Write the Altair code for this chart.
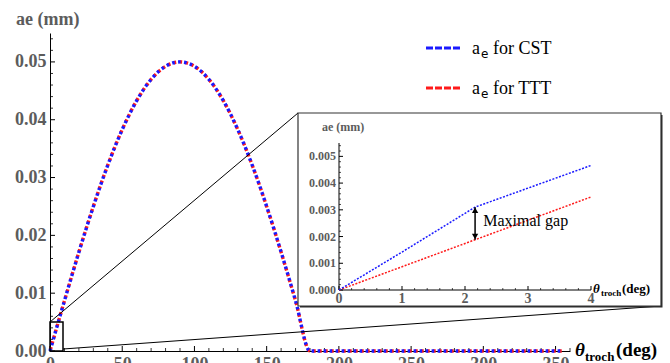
import altair as alt
import pandas as pd

# ---------------- data ----------------
theta_main = [0, 10, 20, 30, 40, 50, 60, 70, 80, 90, 100, 110, 120, 130, 140, 150, 160, 170, 180, 355]
ae_cst_main = [0, 0.00868, 0.01710, 0.02500, 0.03214, 0.03830, 0.04330, 0.04698, 0.04924, 0.05,
               0.04924, 0.04698, 0.04330, 0.03830, 0.03214, 0.02500, 0.01710, 0.00868, 0, 0]
ae_ttt_main = [0, 0.00868, 0.01710, 0.02500, 0.03214, 0.03830, 0.04330, 0.04698, 0.04924, 0.05,
               0.04924, 0.04698, 0.04330, 0.03830, 0.03214, 0.02500, 0.01710, 0.00868, 0, 0]

x_ticks_main = [0, 50, 100, 150, 200, 250, 300, 350]
x_minor_main = [v for v in range(0, 361, 10) if v % 50 != 0]
y_ticks_main = [0, 0.01, 0.02, 0.03, 0.04, 0.05]
y_minor_main = [round(0.002 * i, 3) for i in range(0, 28) if i % 5 != 0]

zoom_box_x = [0, 9]
zoom_box_y = [0, 0.005]

theta_cst_in = [0, 1, 2.16, 4]
ae_cst_in = [0, 0.00142, 0.0031, 0.00466]
theta_ttt_in = [0, 2.16, 4]
ae_ttt_in = [0, 0.00188, 0.00348]

gap_x = 2.16
gap_top = 0.0031
gap_bottom = 0.00188

x_ticks_in = [0, 1, 2, 3, 4]
x_labels_in = ["0", "1", "2", "3", "4"]
x_minor_in = [round(0.2 * i, 1) for i in range(0, 21) if i % 5 != 0]
y_ticks_in = [0, 0.001, 0.002, 0.003, 0.004, 0.005]
y_labels_in = ["0.000", "0.001", "0.002", "0.003", "0.004", "0.005"]
y_minor_in = [round(0.0002 * i, 4) for i in range(0, 28) if i % 5 != 0]

legend_labels = ["for CST", "for TTT"]

# ---------------- style ----------------
SERIF = "Liberation Serif, Times New Roman, serif"
GRAY = "#5c5c5c"
BLUE = "#1a1aff"
RED = "#ff1a1a"
W, H = 520, 318

xs_main = alt.Scale(domain=[0, 360], nice=False, zero=False)
ys_main = alt.Scale(domain=[0, 0.055], nice=False, zero=False)

axis_x_main = alt.Axis(values=x_ticks_main, format="d", ticks=False, tickSize=0, grid=False,
                       domainColor="black", domainWidth=1, labelFont=SERIF, labelFontWeight="bold",
                       labelFontSize=18, labelColor=GRAY, labelPadding=4, title=None,
                       labelFlush=False, labelOverlap=False, orient="bottom")
axis_y_main = alt.Axis(values=y_ticks_main, format=".2f", ticks=False, tickSize=0, grid=False,
                       domainColor="black", domainWidth=1, labelFont=SERIF, labelFontWeight="bold",
                       labelFontSize=18, labelColor=GRAY, labelPadding=4, title=None,
                       labelFlush=False, labelOverlap=False, orient="left")

# inset scale ranges (pixels inside the plot area)
IX0, IX1 = 289, 541
IY0, IY1 = 257, 110
xs_in = alt.Scale(domain=[0, 4], range=[IX0, IX1], nice=False, zero=False)
ys_in = alt.Scale(domain=[0, 0.0055], range=[IY0, IY1], nice=False, zero=False)

one = pd.DataFrame({"a": [0]})

# ---------------- main group ----------------
df_main = pd.DataFrame({"theta": theta_main, "cst": ae_cst_main, "ttt": ae_ttt_main})

red_main = alt.Chart(df_main).mark_line(color=RED, strokeWidth=3.4, strokeDash=[2.6, 3.4],
                                        strokeDashOffset=4.5, interpolate="monotone").encode(
    x=alt.X("theta:Q", scale=xs_main, axis=axis_x_main),
    y=alt.Y("ttt:Q", scale=ys_main, axis=axis_y_main))
blue_main = alt.Chart(df_main).mark_line(color=BLUE, strokeWidth=3.4, strokeDash=[2.6, 3.4],
                                         interpolate="monotone").encode(
    x=alt.X("theta:Q", scale=xs_main, axis=axis_x_main),
    y=alt.Y("cst:Q", scale=ys_main, axis=axis_y_main))

ymaj = alt.Chart(pd.DataFrame({"v": y_ticks_main})).mark_rule(color="black", strokeWidth=1).encode(
    y=alt.Y("v:Q", scale=ys_main, axis=axis_y_main), x=alt.value(0), x2=alt.value(5))
ymin = alt.Chart(pd.DataFrame({"v": y_minor_main})).mark_rule(color="black", strokeWidth=0.8).encode(
    y=alt.Y("v:Q", scale=ys_main, axis=axis_y_main), x=alt.value(0), x2=alt.value(3))
xmaj = alt.Chart(pd.DataFrame({"v": x_ticks_main})).mark_rule(color="black", strokeWidth=1).encode(
    x=alt.X("v:Q", scale=xs_main, axis=axis_x_main), y=alt.value(H), y2=alt.value(H - 5))
xmin = alt.Chart(pd.DataFrame({"v": x_minor_main})).mark_rule(color="black", strokeWidth=0.8).encode(
    x=alt.X("v:Q", scale=xs_main, axis=axis_x_main), y=alt.value(H), y2=alt.value(H - 3))

zoom_rect = alt.Chart(pd.DataFrame({"x0": [zoom_box_x[0]], "x1": [zoom_box_x[1]],
                                    "y0": [zoom_box_y[0]], "y1": [zoom_box_y[1]]})).mark_rect(
    fillOpacity=0, stroke="black", strokeWidth=1.5).encode(
    x=alt.X("x0:Q", scale=xs_main, axis=axis_x_main), x2="x1",
    y=alt.Y("y0:Q", scale=ys_main, axis=axis_y_main), y2="y1")

conn1 = alt.Chart(one).mark_rule(color="black", strokeWidth=1).encode(
    x=alt.value(0), y=alt.value(289), x2=alt.value(248), y2=alt.value(80))
conn2 = alt.Chart(one).mark_rule(color="black", strokeWidth=1).encode(
    x=alt.value(13), y=alt.value(316), x2=alt.value(611), y2=alt.value(273))

frame_shadow = alt.Chart(one).mark_rect(color="#2a2a2a").encode(
    x=alt.value(250), x2=alt.value(612.5), y=alt.value(82), y2=alt.value(274.5))
frame = alt.Chart(one).mark_rect(fill="white", stroke="#333333", strokeWidth=1.2).encode(
    x=alt.value(248), x2=alt.value(611), y=alt.value(80), y2=alt.value(273))

title_y = alt.Chart(one).mark_text(text="ae (mm)", align="left", baseline="alphabetic", font=SERIF,
                                   fontWeight="bold", fontSize=18, color=GRAY).encode(
    x=alt.value(-34), y=alt.value(-8))
tx_theta = alt.Chart(one).mark_text(text="θ", align="left", baseline="alphabetic", font=SERIF,
                                    fontStyle="italic", fontWeight="bold", fontSize=19, color="black").encode(
    x=alt.value(525), y=alt.value(323))
tx_troch = alt.Chart(one).mark_text(text="troch", align="left", baseline="alphabetic", font=SERIF,
                                    fontWeight="bold", fontSize=13, color="black").encode(
    x=alt.value(535), y=alt.value(328))
tx_deg = alt.Chart(one).mark_text(text="(deg)", align="left", baseline="alphabetic", font=SERIF,
                                  fontWeight="bold", fontSize=19, color="black").encode(
    x=alt.value(566), y=alt.value(323))

leg_layers = []
for i, (col, lab) in enumerate(zip([BLUE, RED], legend_labels)):
    ly = 15 + 40 * i
    leg_layers.append(alt.Chart(one).mark_rule(color=col, strokeWidth=3, strokeDash=[7, 2]).encode(
        x=alt.value(376), x2=alt.value(411), y=alt.value(ly), y2=alt.value(ly)))
    leg_layers.append(alt.Chart(one).mark_text(text="a", align="left", baseline="alphabetic", font=SERIF,
                                               fontSize=18, color="black").encode(
        x=alt.value(422), y=alt.value(ly + 6)))
    leg_layers.append(alt.Chart(one).mark_text(text="e", align="left", baseline="alphabetic",
                                               font="DejaVu Sans", fontSize=12, color="black").encode(
        x=alt.value(431), y=alt.value(ly + 10)))
    leg_layers.append(alt.Chart(one).mark_text(text=lab, align="left", baseline="alphabetic", font=SERIF,
                                               fontSize=18, color="black").encode(
        x=alt.value(443), y=alt.value(ly + 6)))

main_group = alt.layer(xmin, xmaj, ymin, ymaj, red_main, blue_main, zoom_rect, conn1, conn2,
                       frame_shadow, frame, title_y, tx_theta, tx_troch, tx_deg, *leg_layers)

# ---------------- inset group ----------------
df_cst_in = pd.DataFrame({"t": theta_cst_in, "v": ae_cst_in})
df_ttt_in = pd.DataFrame({"t": theta_ttt_in, "v": ae_ttt_in})

red_in = alt.Chart(df_ttt_in).mark_line(color=RED, strokeWidth=1.5, strokeDash=[2, 1.5]).encode(
    x=alt.X("t:Q", scale=xs_in, axis=None), y=alt.Y("v:Q", scale=ys_in, axis=None))
blue_in = alt.Chart(df_cst_in).mark_line(color=BLUE, strokeWidth=1.5, strokeDash=[2, 1.5]).encode(
    x=alt.X("t:Q", scale=xs_in, axis=None), y=alt.Y("v:Q", scale=ys_in, axis=None))

ydom_in = alt.Chart(one).mark_rule(color="black", strokeWidth=1).encode(
    x=alt.value(IX0), x2=alt.value(IX0), y=alt.value(IY0), y2=alt.value(IY1))
xdom_in = alt.Chart(one).mark_rule(color="black", strokeWidth=1).encode(
    x=alt.value(IX0), x2=alt.value(IX1), y=alt.value(IY0), y2=alt.value(IY0))

ymaj_in = alt.Chart(pd.DataFrame({"v": y_ticks_in})).mark_rule(color="black", strokeWidth=1).encode(
    y=alt.Y("v:Q", scale=ys_in, axis=None), x=alt.value(IX0), x2=alt.value(IX0 + 4))
ymin_in = alt.Chart(pd.DataFrame({"v": y_minor_in})).mark_rule(color="black", strokeWidth=0.7).encode(
    y=alt.Y("v:Q", scale=ys_in, axis=None), x=alt.value(IX0), x2=alt.value(IX0 + 2))
xmaj_in = alt.Chart(pd.DataFrame({"v": x_ticks_in})).mark_rule(color="black", strokeWidth=1).encode(
    x=alt.X("v:Q", scale=xs_in, axis=None), y=alt.value(IY0), y2=alt.value(IY0 - 4))
xmin_in = alt.Chart(pd.DataFrame({"v": x_minor_in})).mark_rule(color="black", strokeWidth=0.7).encode(
    x=alt.X("v:Q", scale=xs_in, axis=None), y=alt.value(IY0), y2=alt.value(IY0 - 2))

ylab_in = alt.Chart(pd.DataFrame({"v": y_ticks_in, "t": y_labels_in})).mark_text(
    align="right", baseline="middle", font=SERIF, fontWeight="bold", fontSize=12, color=GRAY).encode(
    y=alt.Y("v:Q", scale=ys_in, axis=None), x=alt.value(IX0 - 3), text="t:N")
xlab_in = alt.Chart(pd.DataFrame({"v": x_ticks_in, "t": x_labels_in})).mark_text(
    align="center", baseline="top", font=SERIF, fontWeight="bold", fontSize=14, color=GRAY).encode(
    x=alt.X("v:Q", scale=xs_in, axis=None), y=alt.value(IY0 + 2), text="t:N")

df_gap = pd.DataFrame({"x": [gap_x], "y0": [gap_top], "y1": [gap_bottom]})
arrow_line = alt.Chart(df_gap).mark_rule(color="black", strokeWidth=1.5).encode(
    x=alt.X("x:Q", scale=xs_in, axis=None),
    y=alt.Y("y0:Q", scale=ys_in, axis=None), y2="y1")
df_heads = pd.DataFrame({"x": [gap_x, gap_x], "y": [gap_top - 0.00012, gap_bottom + 0.00012],
                         "s": ["triangle-up", "triangle-down"]})
arrow_heads = alt.Chart(df_heads).mark_point(filled=True, color="black", size=40, opacity=1).encode(
    x=alt.X("x:Q", scale=xs_in, axis=None),
    y=alt.Y("y:Q", scale=ys_in, axis=None),
    shape=alt.Shape("s:N", scale=alt.Scale(domain=["triangle-up", "triangle-down"],
                                           range=["triangle-up", "triangle-down"]), legend=None))
gap_text = alt.Chart(pd.DataFrame({"x": [2.29], "y": [0.0026], "t": ["Maximal gap"]})).mark_text(
    align="left", baseline="middle", font=SERIF, fontSize=16, color="black").encode(
    x=alt.X("x:Q", scale=xs_in, axis=None), y=alt.Y("y:Q", scale=ys_in, axis=None), text="t:N")

in_title = alt.Chart(one).mark_text(text="ae (mm)", align="left", baseline="middle", font=SERIF,
                                    fontWeight="bold", fontSize=12, color=GRAY).encode(
    x=alt.value(272), y=alt.value(94))
in_theta = alt.Chart(one).mark_text(text="θ", align="left", baseline="alphabetic", font=SERIF,
                                    fontStyle="italic", fontWeight="bold", fontSize=13, color="black").encode(
    x=alt.value(543), y=alt.value(260))
in_troch = alt.Chart(one).mark_text(text="troch", align="left", baseline="alphabetic", font=SERIF,
                                    fontWeight="bold", fontSize=9, color="black").encode(
    x=alt.value(551), y=alt.value(263))
in_deg = alt.Chart(one).mark_text(text="(deg)", align="left", baseline="alphabetic", font=SERIF,
                                  fontWeight="bold", fontSize=13, color="black").encode(
    x=alt.value(572), y=alt.value(260))

inset_group = alt.layer(xmin_in, xmaj_in, ymin_in, ymaj_in, ydom_in, xdom_in, ylab_in, xlab_in,
                        red_in, blue_in, arrow_line, arrow_heads,
                        gap_text, in_title, in_theta, in_troch, in_deg)

chart = alt.layer(main_group, inset_group).resolve_scale(
    x="independent", y="independent", shape="independent").properties(
    width=W, height=H,
    padding={"left": 50, "top": 33, "right": 100, "bottom": 12},
    autosize=alt.AutoSizeParams(type="none"),
    background="white",
).configure_view(stroke=None)

chart.save("out.html", embed_options={"renderer": "svg", "actions": False})
